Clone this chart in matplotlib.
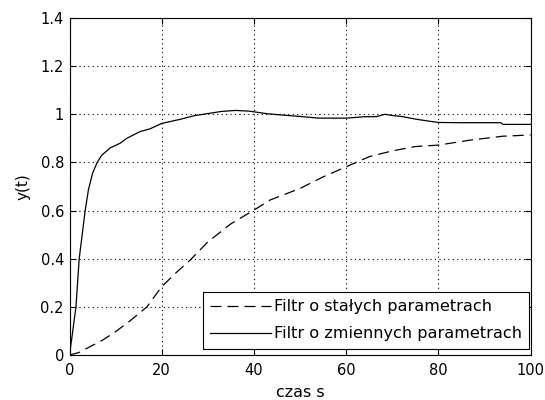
import matplotlib
matplotlib.use("Agg")
import matplotlib.pyplot as plt

# Data
t_fix = [0, 2, 4.5, 7, 9.5, 13, 16.8, 20, 23, 26.2, 30, 35, 40, 43.5, 50, 55,
         60, 65, 70, 75, 80, 87, 94, 100]
y_fix = [0, 0.01, 0.035, 0.06, 0.09, 0.14, 0.2, 0.284, 0.34, 0.395, 0.47, 0.545,
         0.602, 0.644, 0.692, 0.74, 0.782, 0.824, 0.848, 0.866, 0.872, 0.893,
         0.909, 0.914]

t_var = [0, 0.5, 1.4, 2.1, 3.4, 4.1, 5.0, 6.0, 7.0, 8.8, 11, 12.4, 15.3, 17.5,
         20, 24, 27, 30, 33, 36, 39, 43, 46, 50, 54, 60, 64, 66.5, 68.4, 70,
         72.3, 75, 77.4, 80, 85, 90, 93.5, 94, 100]
y_var = [0, 0.07, 0.2, 0.4, 0.6, 0.686, 0.755, 0.8, 0.83, 0.86, 0.88, 0.90,
         0.928, 0.94, 0.962, 0.979, 0.994, 1.003, 1.012, 1.016, 1.013, 1.002,
         0.997, 0.991, 0.984, 0.984, 0.99, 0.99, 1.0, 0.995, 0.99, 0.98, 0.973,
         0.966, 0.965, 0.965, 0.965, 0.958, 0.958]

labels = ["Filtr o stałych parametrach", "Filtr o zmiennych parametrach"]
x_ticks = [0, 20, 40, 60, 80, 100]
y_ticks = [0, 0.2, 0.4, 0.6, 0.8, 1, 1.2, 1.4]
y_tick_labels = ["0", "0.2", "0.4", "0.6", "0.8", "1", "1.2", "1.4"]

plt.rcParams['font.family'] = ['DejaVu Sans']
fig = plt.figure(figsize=(5.45, 4.0), dpi=100)
ax = fig.add_axes([69.5 / 545, 45 / 400, (530.7 - 69.5) / 545, (355 - 18) / 400])

ax.plot(t_fix, y_fix, color='black', linewidth=0.9, linestyle=(0, (8.8, 4.8)),
        label=labels[0])
ax.plot(t_var, y_var, color='black', linewidth=0.9, linestyle='-',
        label=labels[1])

ax.set_xlim(0, 100)
ax.set_ylim(0, 1.4)
ax.set_xticks(x_ticks)
ax.set_yticks(y_ticks)
ax.set_yticklabels(y_tick_labels)
ax.grid(True, color='black', linestyle=(0, (1, 3)), linewidth=0.8)
ax.tick_params(direction='in', length=4, width=0.8, top=True, right=True,
               labelsize=10.5, colors='black')
ax.tick_params(axis='x', pad=6)
ax.tick_params(axis='y', pad=4)
for s in ax.spines.values():
    s.set_linewidth(0.8)

ax.set_xlabel("czas s", fontsize=11.5, labelpad=5)
ax.set_ylabel("y(t)", fontsize=11, labelpad=7)

leg = ax.legend(loc='upper left', bbox_to_anchor=(203 / 545, 1 - 292 / 400),
                bbox_transform=fig.transFigure, borderaxespad=0,
                fancybox=False, edgecolor='black', framealpha=1,
                fontsize=11.6, handlelength=3.8, handletextpad=0.15,
                labelspacing=0.75, borderpad=0.45)
leg.get_frame().set_linewidth(0.8)

fig.savefig("out.png", dpi=100)
